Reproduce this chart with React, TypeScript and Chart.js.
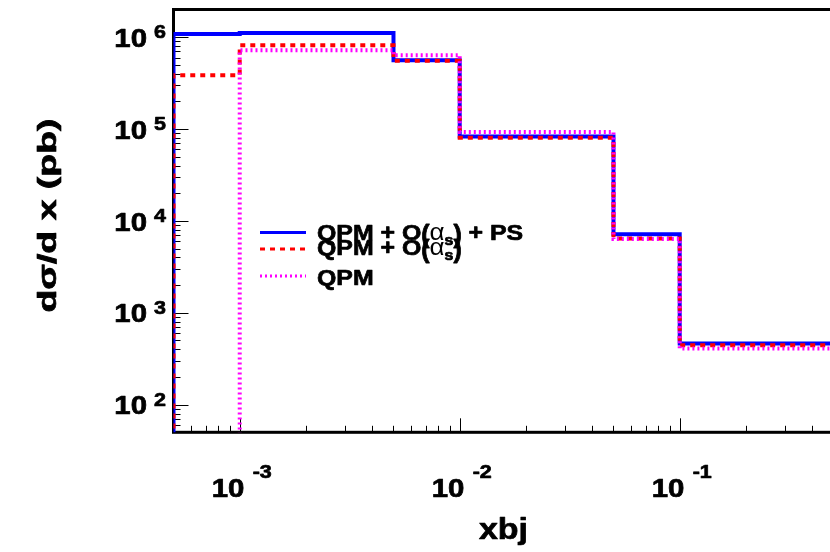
import React, { useEffect, useRef } from 'react';
import { Chart, registerables } from 'chart.js';

Chart.register(...registerables);

// ---- data ----
const binEdges = [5e-4, 1e-3, 5e-3, 1e-2, 5e-2, 1e-1, 1];
const qpmAlphaPs = [1.08e6, 1.11e6, 5.59e5, 8.28e4, 7.16e3, 462];
const qpmAlpha = [3.86e5, 8.18e5, 5.55e5, 8.06e4, 6.45e3, 443];
const qpmOnly = [0, 7.18e5, 6.37e5, 9.27e4, 6.35e3, 409];
const seriesLabels = ['QPM + O(α_s) + PS', 'QPM + O(α_s)', 'QPM'];
const xTickExponents = [-3, -2, -1];
const yTickExponents = [2, 3, 4, 5, 6];
const xTitle = 'xbj';
const yTitle = 'dσ/d x (pb)';
const X_MIN = 5e-4;
const X_MAX = 1;
const Y_MIN = 50;
const Y_MAX = 2e6;
const OFF_SCALE = 1;

const FONT = '"Liberation Sans", Arial, Helvetica, sans-serif';
const SX = 1.13;
const THICK = 0.7;

function histPoints(edges: number[], values: number[]) {
  const pts: { x: number; y: number }[] = [{ x: edges[0], y: OFF_SCALE }];
  values.forEach((v, i) => pts.push({ x: edges[i], y: v > 0 ? v : OFF_SCALE }));
  pts.push({ x: edges[edges.length - 1], y: OFF_SCALE });
  return pts;
}

function txt(ctx: CanvasRenderingContext2D, s: string, x: number, y: number, size: number, weight = 'bold', sx = SX, sy = 1) {
  ctx.save();
  ctx.font = `${weight} ${size}px ${FONT}`;
  ctx.textAlign = 'left';
  ctx.textBaseline = 'alphabetic';
  ctx.translate(x, y);
  ctx.scale(sx, sy);
  ctx.fillText(s, 0, 0);
  if (weight === 'bold') {
    ctx.strokeStyle = ctx.fillStyle as string;
    ctx.lineWidth = THICK;
    ctx.lineJoin = 'round';
    ctx.strokeText(s, 0, 0);
  }
  const w = ctx.measureText(s).width * sx;
  ctx.restore();
  return w;
}

function measure(ctx: CanvasRenderingContext2D, s: string, size: number, weight = 'bold', sx = SX) {
  ctx.save();
  ctx.font = `${weight} ${size}px ${FONT}`;
  const w = ctx.measureText(s).width * sx;
  ctx.restore();
  return w;
}

function drawLegendText(ctx: CanvasRenderingContext2D, label: string, x: number, b: number) {
  const token = '(α_s)';
  const idx = label.indexOf(token);
  if (idx < 0) {
    txt(ctx, label, x, b, 22);
    return;
  }
  let cx = x;
  cx += txt(ctx, label.slice(0, idx), cx, b, 22);
  cx += txt(ctx, '(', cx, b + 3, 22, 'bold', SX, 1.2);
  cx += txt(ctx, 'α', cx, b, 23, 'normal');
  cx += txt(ctx, 's', cx, b + 5, 14);
  cx += txt(ctx, ')', cx, b + 3, 22, 'bold', SX, 1.2);
  txt(ctx, label.slice(idx + token.length), cx, b, 22);
}

const rootPlugin = {
  id: 'rootStyle',
  beforeDatasetsDraw(chart: any) {
    const ctx: CanvasRenderingContext2D = chart.ctx;
    const xs = chart.scales.x;
    const ys = chart.scales.y;
    const { left, right, top, bottom } = chart.chartArea;
    ctx.save();
    ctx.strokeStyle = '#000';
    ctx.lineWidth = 1;
    for (let e = -4; e <= 0; e++) {
      for (let m = 1; m <= 9; m++) {
        const v = m * Math.pow(10, e);
        if (v <= X_MIN || v >= X_MAX) continue;
        const px = Math.round(xs.getPixelForValue(v)) + 0.5;
        const len = m === 1 ? 14 : 6.5;
        ctx.beginPath();
        ctx.moveTo(px, bottom);
        ctx.lineTo(px, bottom - len);
        ctx.stroke();
      }
    }
    for (let e = 1; e <= 6; e++) {
      for (let m = 1; m <= 9; m++) {
        const v = m * Math.pow(10, e);
        if (v <= Y_MIN || v >= Y_MAX) continue;
        const py = Math.round(ys.getPixelForValue(v)) + 0.5;
        const len = m === 1 ? 15 : 7;
        ctx.beginPath();
        ctx.moveTo(left, py);
        ctx.lineTo(left + len, py);
        ctx.stroke();
      }
    }
    ctx.lineWidth = 3;
    ctx.strokeRect(left, top, right - left, bottom - top);
    ctx.restore();
  },
  afterDraw(chart: any) {
    const ctx: CanvasRenderingContext2D = chart.ctx;
    const xs = chart.scales.x;
    const ys = chart.scales.y;
    ctx.save();
    ctx.fillStyle = '#000';
    // y tick labels
    yTickExponents.forEach((e) => {
      const py = ys.getPixelForValue(Math.pow(10, e));
      const w = measure(ctx, '10', 26);
      txt(ctx, '10', 147 - w, py + 9.7, 26);
      txt(ctx, String(e), 154, py + 1, 19);
    });
    // x tick labels
    xTickExponents.forEach((e) => {
      const px = xs.getPixelForValue(Math.pow(10, e));
      txt(ctx, '10', px - 28, 497, 26);
      txt(ctx, String(e), px + 13, 478, 19);
    });
    // x title
    txt(ctx, xTitle, 479, 539, 29, 'bold', 1.17);
    // y title
    ctx.save();
    ctx.font = `bold 25px ${FONT}`;
    const tw = ctx.measureText(yTitle).width;
    const sx = 194 / tw;
    ctx.translate(56, 215.5);
    ctx.rotate(-Math.PI / 2);
    ctx.scale(sx, 1);
    ctx.textAlign = 'center';
    ctx.textBaseline = 'alphabetic';
    ctx.fillText(yTitle, 0, 0);
    ctx.strokeStyle = '#000';
    ctx.lineWidth = THICK;
    ctx.lineJoin = 'round';
    ctx.strokeText(yTitle, 0, 0);
    ctx.restore();

    // legend
    const ds = chart.data.datasets;
    const sampleY = [232.5, 249, 276];
    const baseY = [239.5, 255, 285];
    ds.forEach((d: any, i: number) => {
      ctx.save();
      ctx.strokeStyle = d.borderColor;
      ctx.lineWidth = 3;
      ctx.setLineDash(d.borderDash || []);
      ctx.beginPath();
      ctx.moveTo(260, sampleY[i]);
      ctx.lineTo(306, sampleY[i]);
      ctx.stroke();
      ctx.restore();
      drawLegendText(ctx, seriesLabels[i], 317, baseY[i]);
    });
    ctx.restore();
  },
};

export default function App() {
  const ref = useRef<HTMLCanvasElement | null>(null);
  useEffect(() => {
    if (!ref.current) return;
    const chart = new Chart(ref.current, {
      type: 'line',
      data: {
        datasets: [
          {
            label: seriesLabels[0],
            data: histPoints(binEdges, qpmAlphaPs),
            borderColor: '#0000ff',
            borderWidth: 4,
            stepped: 'before',
            pointRadius: 0,
            fill: false,
            order: 3,
          },
          {
            label: seriesLabels[1],
            data: histPoints(binEdges, qpmAlpha),
            borderColor: '#ff0000',
            borderWidth: 4,
            borderDash: [5, 5],
            stepped: 'before',
            pointRadius: 0,
            fill: false,
            order: 2,
          },
          {
            label: seriesLabels[2],
            data: histPoints(binEdges, qpmOnly),
            borderColor: '#ff00ff',
            borderWidth: 4,
            borderDash: [2, 3],
            stepped: 'before',
            pointRadius: 0,
            fill: false,
            order: 1,
          },
        ],
      } as any,
      options: {
        animation: false,
        responsive: false,
        devicePixelRatio: 1,
        events: [],
        layout: { padding: { top: 9.5, right: 10.3, left: 0, bottom: 0 } },
        plugins: { legend: { display: false }, tooltip: { enabled: false }, title: { display: false } },
        scales: {
          x: {
            type: 'logarithmic',
            min: X_MIN,
            max: X_MAX,
            ticks: { display: false },
            grid: { display: false },
            border: { display: false },
            afterFit: (s: any) => {
              s.height = 552 - 432.3;
            },
          },
          y: {
            type: 'logarithmic',
            min: Y_MIN,
            max: Y_MAX,
            ticks: { display: false },
            grid: { display: false },
            border: { display: false },
            afterFit: (s: any) => {
              s.width = 173.5;
            },
          },
        },
      } as any,
      plugins: [rootPlugin],
    });
    return () => chart.destroy();
  }, []);
  return (
    <div style={{ position: 'fixed', left: 0, top: 0, width: 830, height: 552, overflow: 'hidden', background: '#fff' }}>
      <canvas ref={ref} width={910} height={552} style={{ display: 'block', width: 910, height: 552 }} />
    </div>
  );
}
